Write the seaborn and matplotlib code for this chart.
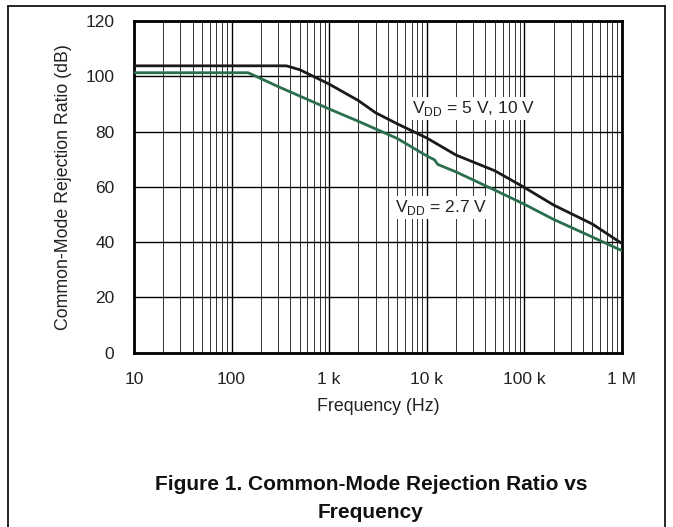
import matplotlib
matplotlib.use("Agg")
import matplotlib.pyplot as plt
import seaborn as sns
import pandas as pd
from matplotlib.ticker import FixedLocator, LogLocator, NullFormatter

sns.set_style("white")
plt.rcParams['font.family'] = ['Liberation Sans', 'DejaVu Sans']

freq_5v = [10, 100, 365, 500, 1000, 2000, 3000, 5000, 10000, 20000, 50000,
           100000, 200000, 500000, 1000000]
cmrr_5v = [103.8, 103.8, 103.8, 102.4, 97.2, 91.2, 86.8, 82.8, 77.7, 71.5,
           65.8, 59.8, 53.4, 46.5, 39.5]
freq_27v = [10, 100, 148, 300, 1000, 2000, 5000, 10000, 12000, 13000,
            20000, 50000, 100000, 200000, 500000, 1000000]
cmrr_27v = [101.3, 101.3, 101.3, 96.3, 88.2, 83.7, 77.5, 71.2, 69.8, 68.1,
            65.4, 58.8, 53.7, 48.2, 41.8, 36.9]
xtick_vals = [10, 100, 1000, 10000, 100000, 1000000]
xtick_labels = ["10", "100", "1 k", "10 k", "100 k", "1 M"]
ytick_vals = [0, 20, 40, 60, 80, 100, 120]

df = pd.concat([
    pd.DataFrame({"f": freq_5v, "db": cmrr_5v, "s": "5V"}),
    pd.DataFrame({"f": freq_27v, "db": cmrr_27v, "s": "2.7V"}),
])

fig = plt.figure(figsize=(6.73, 5.27), dpi=100)
ax = fig.add_axes([0.199, 0.331, 0.725, 0.629])

sns.lineplot(data=df, x="f", y="db", hue="s",
             palette={"5V": "#1a1a1a", "2.7V": "#2a6e4e"},
             hue_order=["5V", "2.7V"], linewidth=2.0, legend=False, ax=ax,
             zorder=3)
ax.set_xscale("log")
ax.set_xlim(10, 1e6)
ax.set_ylim(0, 120)
ax.xaxis.set_major_locator(FixedLocator(xtick_vals))
ax.set_xticklabels(xtick_labels)
ax.xaxis.set_minor_locator(LogLocator(base=10, subs=range(2, 10), numticks=50))
ax.xaxis.set_minor_formatter(NullFormatter())
ax.set_yticks(ytick_vals)
ax.grid(True, which="major", color="black", linewidth=1.0)
ax.grid(True, which="minor", axis="x", color="#333333", linewidth=0.7)
ax.tick_params(axis="both", which="both", length=0, labelsize=12.5,
               colors="#222222")
ax.tick_params(axis="x", pad=14)
ax.tick_params(axis="y", pad=14)
for sp in ax.spines.values():
    sp.set_linewidth(2.0)
    sp.set_color("black")
ax.set_xlabel("Frequency (Hz)", fontsize=12.8, color="#222222", labelpad=8)
ax.set_ylabel("Common-Mode Rejection Ratio (dB)", fontsize=12.8,
              color="#222222", labelpad=10)

box = dict(facecolor="white", edgecolor="none", pad=1.5)
ax.text(30000, 88.5, r"V$_{\mathregular{DD}}$ = 5 V, 10 V", fontsize=12.5,
        ha="center", va="center", color="#222222", bbox=box, zorder=4)
ax.text(14000, 52.5, r"V$_{\mathregular{DD}}$ = 2.7 V", fontsize=12.5,
        ha="center", va="center", color="#222222", bbox=box, zorder=4)

fig.text(0.551, 1 - 498/527, "Figure 1. Common-Mode Rejection Ratio vs\nFrequency",
         ha="center", va="center", fontsize=15, fontweight="bold",
         linespacing=1.6, color="#111111")

fig.add_artist(plt.Line2D([8/673, 8/673], [0, 1 - 6/527], color="black", lw=1.2,
                          transform=fig.transFigure))
fig.add_artist(plt.Line2D([8/673, 665/673], [1 - 6/527, 1 - 6/527], color="black",
                          lw=1.2, transform=fig.transFigure))
fig.add_artist(plt.Line2D([665/673, 665/673], [0, 1 - 6/527], color="black",
                          lw=1.2, transform=fig.transFigure))

fig.savefig("out.png", dpi=100)
